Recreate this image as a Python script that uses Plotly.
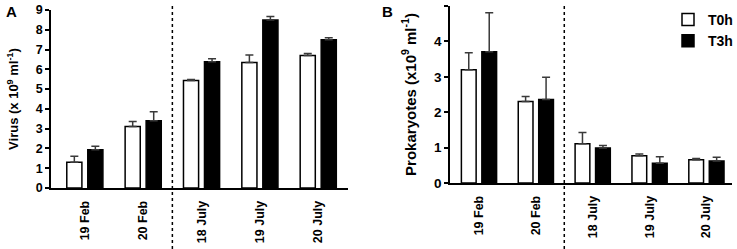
import plotly.graph_objects as go

# ---- data ----
dates = ["19 Feb", "20 Feb", "18 July", "19 July", "20 July"]
series_names = ["T0h", "T3h"]

virus_t0 = [1.30, 3.11, 5.43, 6.35, 6.70]
virus_t0_err = [0.30, 0.25, 0.06, 0.38, 0.10]
virus_t3 = [1.93, 3.40, 6.38, 8.50, 7.50]
virus_t3_err = [0.18, 0.45, 0.15, 0.17, 0.10]

prok_t0 = [3.20, 2.30, 1.11, 0.77, 0.66]
prok_t0_err = [0.48, 0.14, 0.32, 0.05, 0.03]
prok_t3 = [3.71, 2.36, 0.99, 0.56, 0.62]
prok_t3_err = [1.10, 0.63, 0.07, 0.18, 0.11]

virus_ticks = list(range(0, 10))
prok_ticks = list(range(0, 6))

FONT = "Liberation Sans, Arial, sans-serif"
W, H = 737, 249

fig = go.Figure()

def add_bars(y0, e0, y3, e3, xa, ya, show):
    for name, vals, errs, fill in [(series_names[0], y0, e0, "white"),
                                   (series_names[1], y3, e3, "black")]:
        fig.add_trace(go.Bar(
            x=dates, y=vals, name=name, xaxis=xa, yaxis=ya,
            marker=dict(color=fill, line=dict(color="black", width=1.5)),
            error_y=dict(type="data", array=errs, arrayminus=[0] * len(errs),
                         symmetric=False, color="#3a3a3a", thickness=1.5, width=4),
            showlegend=show, legendgroup=name,
        ))

add_bars(virus_t0, virus_t0_err, virus_t3, virus_t3_err, "x", "y", False)
add_bars(prok_t0, prok_t0_err, prok_t3, prok_t3_err, "x2", "y2", True)

axis_common = dict(showline=True, linecolor="black", linewidth=1.5, showgrid=False,
                   zeroline=False, automargin=False)

fig.update_layout(
    width=W, height=H,
    margin=dict(l=0, r=0, t=0, b=0, autoexpand=False),
    paper_bgcolor="white", plot_bgcolor="white",
    font=dict(family=FONT, color="black"),
    barmode="group", bargap=0.28, bargroupgap=0.28,
    xaxis=dict(domain=[51 / W, 348 / W], anchor="y", range=[-0.58, 4.51],
               ticks="", tickangle=-90, ticklabelstandoff=6,
               tickfont=dict(size=12.5, weight="bold"), **axis_common),
    yaxis=dict(domain=[1 - 188 / H, 1 - 10 / H], anchor="x", range=[0, 9],
               tickvals=virus_ticks, ticks="outside", ticklen=4, tickwidth=1.5,
               tickcolor="black", tickfont=dict(size=12.5, weight="bold"),
               title=dict(text="Virus (x 10<sup>9</sup> ml<sup>-1</sup>)",
                          font=dict(size=13, weight="bold"), standoff=14),
               **axis_common),
    xaxis2=dict(domain=[450 / W, 732 / W], anchor="y2", range=[-0.51, 4.45],
                ticks="", tickangle=-90, ticklabelstandoff=6,
                tickfont=dict(size=12.5, weight="bold"), **axis_common),
    yaxis2=dict(domain=[1 - 183 / H, 1 - 6 / H], anchor="x2", range=[0, 5],
                tickvals=prok_ticks, ticks="outside", ticklen=4, tickwidth=1.5,
                tickcolor="black", tickfont=dict(size=13.5, weight="bold"),
                title=dict(text="Prokaryotes (x10<sup>9</sup> ml<sup>-1</sup>)",
                           font=dict(size=15, weight="bold"), standoff=14),
                **axis_common),
    legend=dict(x=668 / W, xanchor="left", y=1 - 4 / H, yanchor="top",
                font=dict(size=14, weight="bold"), bgcolor="rgba(0,0,0,0)",
                tracegroupgap=0, traceorder="normal", itemwidth=30),
    shapes=[
        dict(type="line", xref="x", yref="paper", x0=1.5, x1=1.5,
             y0=0, y1=1 - 6 / H, line=dict(color="black", width=1.5, dash="dot")),
        dict(type="line", xref="x2", yref="paper", x0=1.5, x1=1.5,
             y0=0, y1=1 - 4 / H, line=dict(color="black", width=1.5, dash="dot")),
    ],
    annotations=[
        dict(text="A", x=12 / W, y=1 - 1 / H, xref="paper", yref="paper",
             xanchor="center", yanchor="top", showarrow=False,
             font=dict(size=15, weight="bold")),
        dict(text="B", x=387 / W, y=1 - 1 / H, xref="paper", yref="paper",
             xanchor="center", yanchor="top", showarrow=False,
             font=dict(size=15, weight="bold")),
    ],
)

fig.write_html(
    "out.html",
    config={"displayModeBar": False},
    post_script="document.body.style.margin='0px';document.body.style.overflow='hidden';",
)
